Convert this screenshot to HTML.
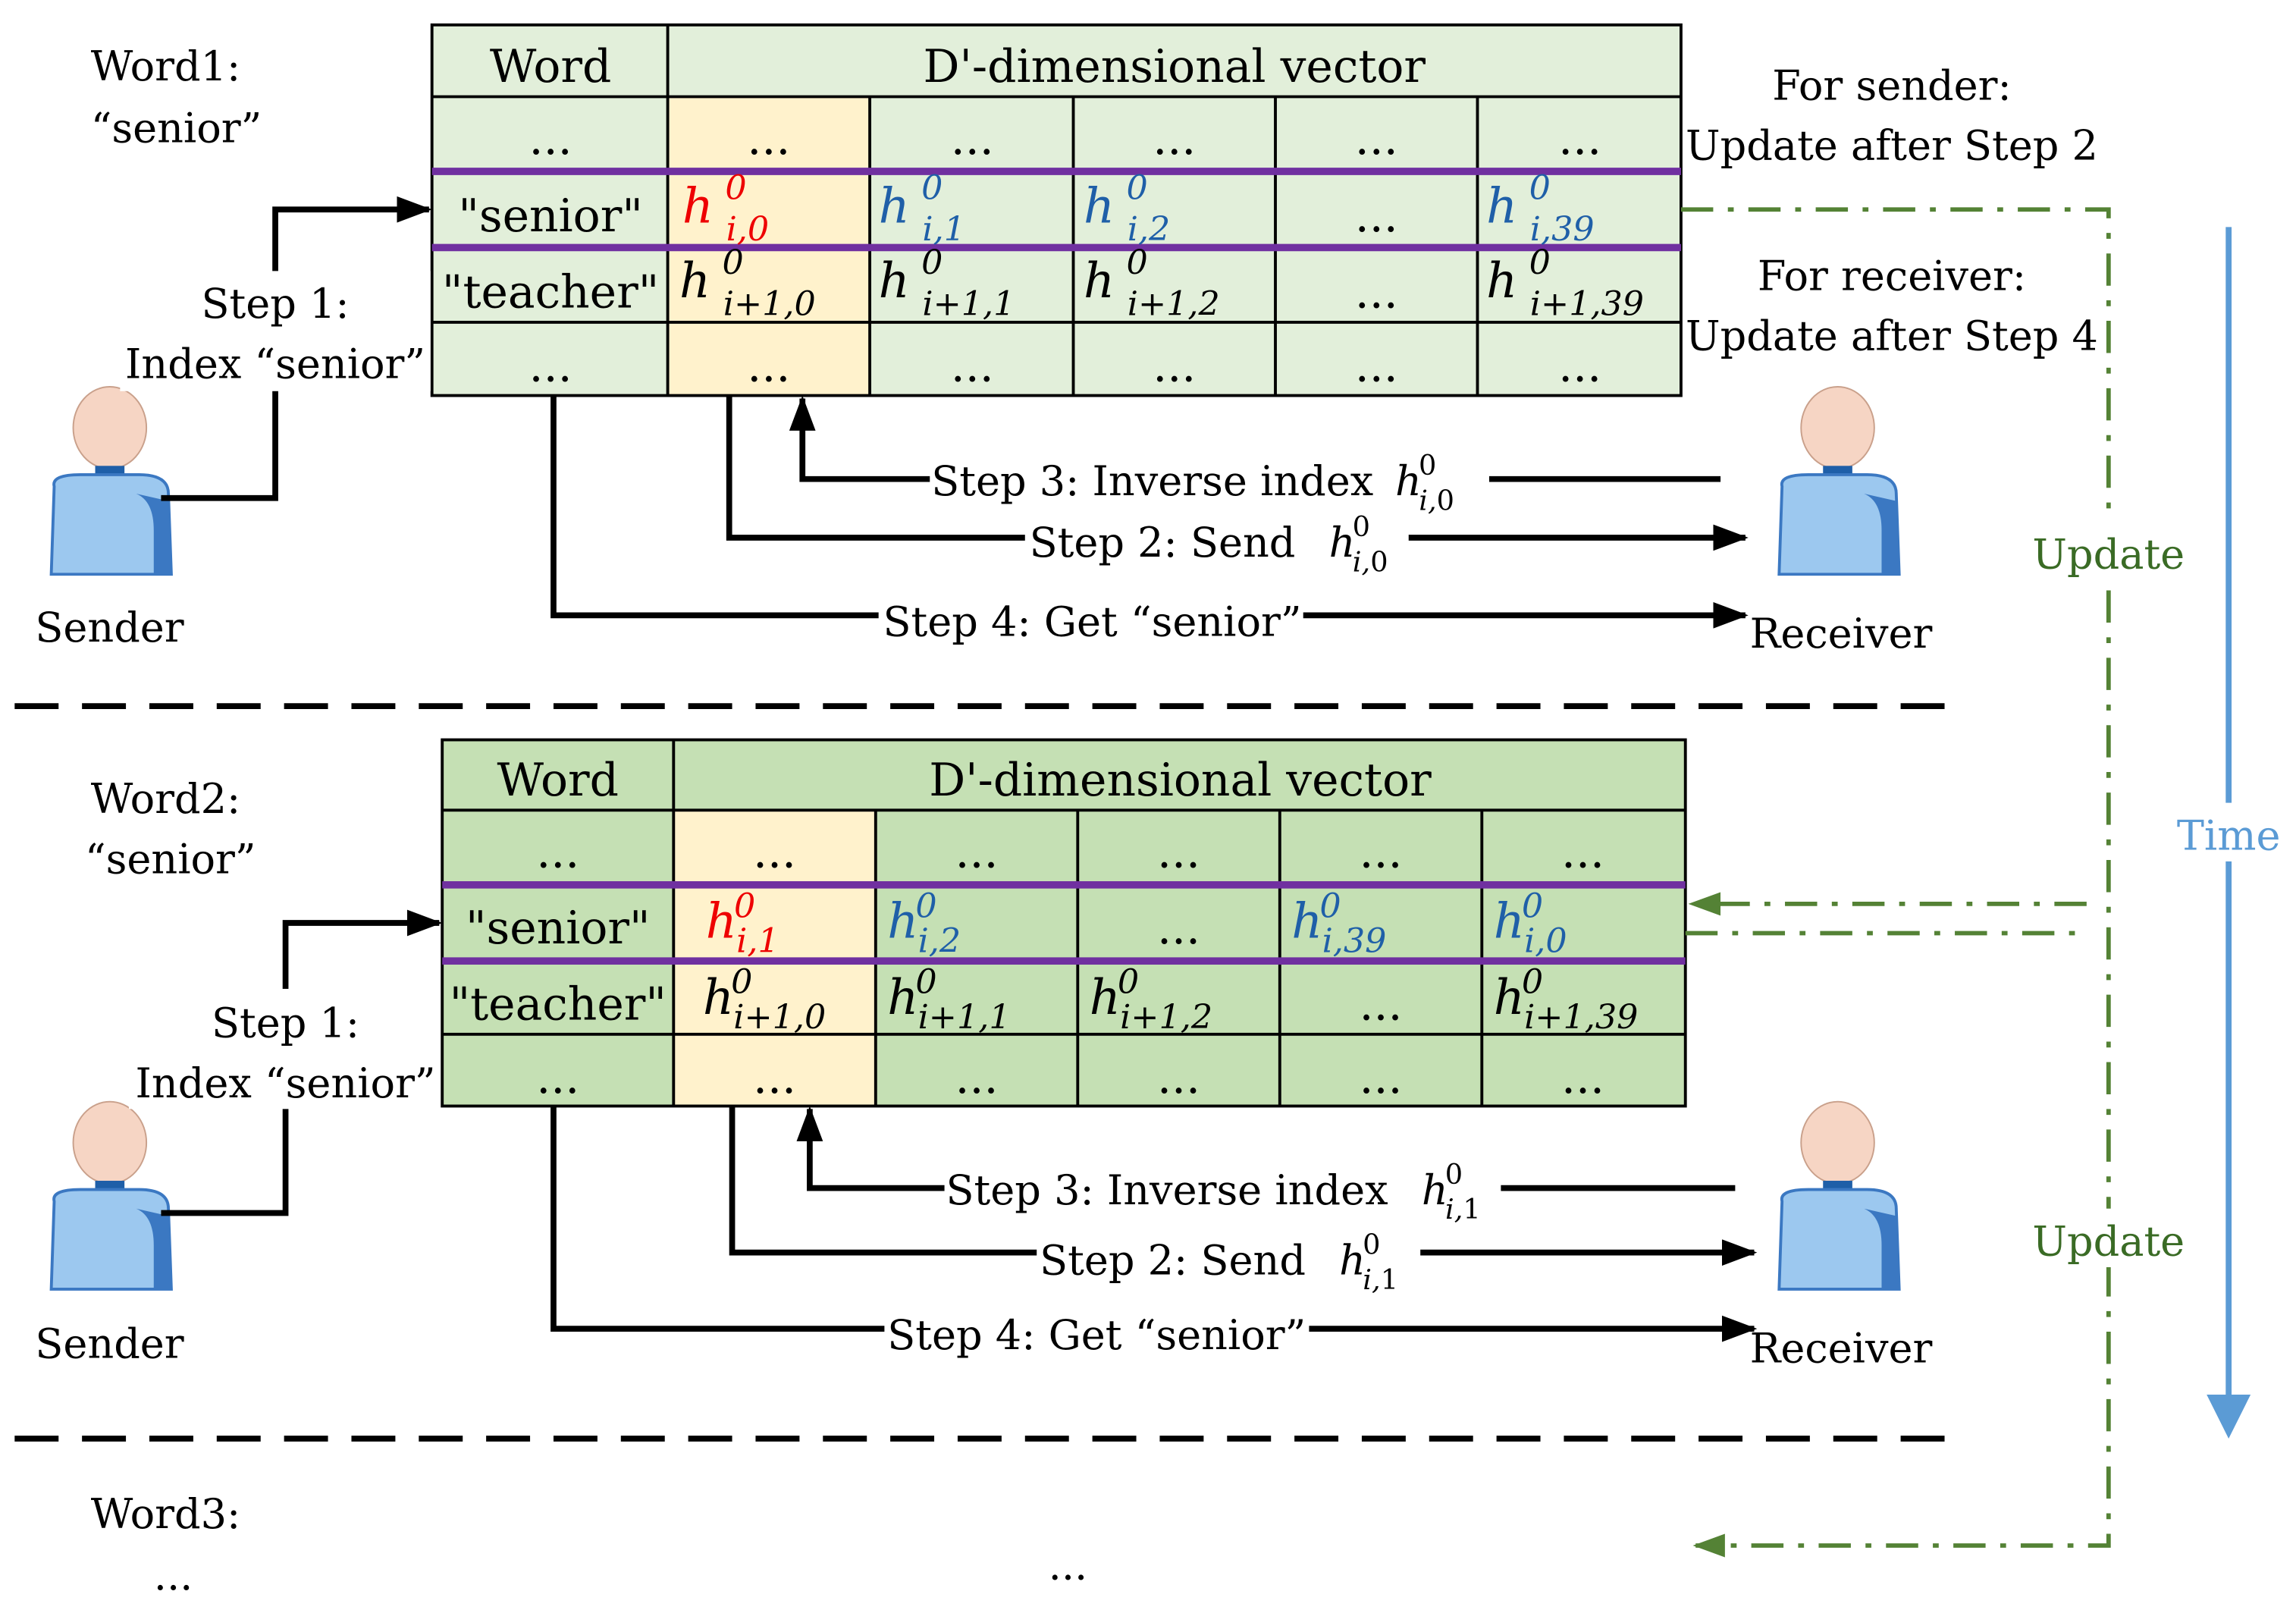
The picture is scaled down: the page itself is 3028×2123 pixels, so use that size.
<!DOCTYPE html>
<html><head><meta charset="utf-8"><style>
html,body{margin:0;padding:0;background:#fff;}
svg{display:block;}
text{font-family:"DejaVu Serif","Liberation Serif",serif;}
</style></head><body>
<svg width="3028" height="2123" viewBox="0 0 1568 1099" preserveAspectRatio="none" xmlns="http://www.w3.org/2000/svg">
<defs>
<marker id="ab2" markerWidth="24" markerHeight="18" refX="22" refY="9" orient="auto" markerUnits="userSpaceOnUse"><path d="M0,0 L24,9 L0,18 z" fill="#000"/></marker>
<marker id="ag" markerWidth="22" markerHeight="16" refX="20" refY="8" orient="auto" markerUnits="userSpaceOnUse"><path d="M0,0 L22,8 L0,16 z" fill="#548235"/></marker>
<g id="person">
<ellipse cx="0" cy="-100" rx="25" ry="28" fill="#f6d5c4" stroke="#c9a08b"/>
<rect x="-10" y="-74" width="20" height="8" fill="#1f5fa8"/>
<path d="M-38,-60 Q-40,-68 -20,-68 L20,-68 Q40,-68 40,-55 L42,0 L-40,0 Z" fill="#9cc8ef" stroke="#3b78c2" stroke-width="2"/>
<path d="M18,-55 Q30,-50 30,-30 L30,0 L42,0 L40,-50 Z" fill="#3b78c2"/>
</g>
</defs>

<!-- Table 1 -->
<rect x="295" y="17" width="853" height="253" fill="#e2efda"/>
<rect x="456" y="66" width="138" height="204" fill="#fff2cc"/>
<g stroke="#000" stroke-width="2" fill="none">
<rect x="295" y="17" width="853" height="253"/>
<line x1="295" y1="66" x2="1148" y2="66"/><line x1="295" y1="220" x2="1148" y2="220"/>
<line x1="456" y1="17" x2="456" y2="270"/>
<line x1="594" y1="66" x2="594" y2="270"/><line x1="733" y1="66" x2="733" y2="270"/>
<line x1="871" y1="66" x2="871" y2="270"/><line x1="1009" y1="66" x2="1009" y2="270"/>
</g>
<line x1="295" y1="117" x2="1148" y2="117" stroke="#7030a0" stroke-width="5"/>
<line x1="295" y1="169" x2="1148" y2="169" stroke="#7030a0" stroke-width="5"/>
<g font-size="31" text-anchor="middle" fill="#000">
<text x="376" y="56">Word</text><text x="802" y="56">D'-dimensional vector</text>
<text x="376" y="105">...</text><text x="525" y="105">...</text><text x="664" y="105">...</text><text x="802" y="105">...</text><text x="940" y="105">...</text><text x="1079" y="105">...</text>
<text x="376" y="158">"senior"</text><text x="940" y="158">...</text>
<text x="376" y="210">"teacher"</text><text x="940" y="210">...</text>
<text x="376" y="260">...</text><text x="525" y="260">...</text><text x="664" y="260">...</text><text x="802" y="260">...</text><text x="940" y="260">...</text><text x="1079" y="260">...</text>
</g>
<g font-size="33" font-style="italic">
<text x="466" y="152" fill="#e00">h<tspan font-size="23" dx="8" dy="-16">0</tspan><tspan font-size="23" dx="-14" dy="28">i,0</tspan></text>
<text x="600" y="152" fill="#1f5fa8">h<tspan font-size="23" dx="8" dy="-16">0</tspan><tspan font-size="23" dx="-14" dy="28">i,1</tspan></text>
<text x="740" y="152" fill="#1f5fa8">h<tspan font-size="23" dx="8" dy="-16">0</tspan><tspan font-size="23" dx="-14" dy="28">i,2</tspan></text>
<text x="1015" y="152" fill="#1f5fa8">h<tspan font-size="23" dx="8" dy="-16">0</tspan><tspan font-size="23" dx="-14" dy="28">i,39</tspan></text>
<text x="464" y="203" fill="#000">h<tspan font-size="23" dx="8" dy="-16">0</tspan><tspan font-size="23" dx="-14" dy="28">i+1,0</tspan></text>
<text x="600" y="203" fill="#000">h<tspan font-size="23" dx="8" dy="-16">0</tspan><tspan font-size="23" dx="-14" dy="28">i+1,1</tspan></text>
<text x="740" y="203" fill="#000">h<tspan font-size="23" dx="8" dy="-16">0</tspan><tspan font-size="23" dx="-14" dy="28">i+1,2</tspan></text>
<text x="1015" y="203" fill="#000">h<tspan font-size="23" dx="8" dy="-16">0</tspan><tspan font-size="23" dx="-14" dy="28">i+1,39</tspan></text>
</g>

<!-- Table 2 -->
<rect x="302" y="505" width="849" height="250" fill="#c5e0b4"/>
<rect x="460" y="553" width="138" height="202" fill="#fff2cc"/>
<g stroke="#000" stroke-width="2" fill="none">
<rect x="302" y="505" width="849" height="250"/>
<line x1="302" y1="553" x2="1151" y2="553"/><line x1="302" y1="706" x2="1151" y2="706"/>
<line x1="460" y1="505" x2="460" y2="755"/>
<line x1="598" y1="553" x2="598" y2="755"/><line x1="736" y1="553" x2="736" y2="755"/>
<line x1="874" y1="553" x2="874" y2="755"/><line x1="1012" y1="553" x2="1012" y2="755"/>
</g>
<line x1="302" y1="604" x2="1151" y2="604" stroke="#7030a0" stroke-width="5"/>
<line x1="302" y1="656" x2="1151" y2="656" stroke="#7030a0" stroke-width="5"/>
<g font-size="31" text-anchor="middle" fill="#000">
<text x="381" y="543">Word</text><text x="806" y="543">D'-dimensional vector</text>
<text x="381" y="592">...</text><text x="529" y="592">...</text><text x="667" y="592">...</text><text x="805" y="592">...</text><text x="943" y="592">...</text><text x="1081" y="592">...</text>
<text x="381" y="644">"senior"</text><text x="805" y="644">...</text>
<text x="381" y="696">"teacher"</text><text x="943" y="696">...</text>
<text x="381" y="746">...</text><text x="529" y="746">...</text><text x="667" y="746">...</text><text x="805" y="746">...</text><text x="943" y="746">...</text><text x="1081" y="746">...</text>
</g>
<g font-size="33" font-style="italic">
<text x="482" y="640" fill="#e00">h<tspan font-size="23" dx="-2" dy="-14">0</tspan><tspan font-size="23" dx="-13" dy="24">i,1</tspan></text>
<text x="606" y="640" fill="#1f5fa8">h<tspan font-size="23" dx="-2" dy="-14">0</tspan><tspan font-size="23" dx="-13" dy="24">i,2</tspan></text>
<text x="882" y="640" fill="#1f5fa8">h<tspan font-size="23" dx="-2" dy="-14">0</tspan><tspan font-size="23" dx="-13" dy="24">i,39</tspan></text>
<text x="1020" y="640" fill="#1f5fa8">h<tspan font-size="23" dx="-2" dy="-14">0</tspan><tspan font-size="23" dx="-13" dy="24">i,0</tspan></text>
<text x="480" y="692" fill="#000">h<tspan font-size="23" dx="-2" dy="-14">0</tspan><tspan font-size="23" dx="-13" dy="24">i+1,0</tspan></text>
<text x="606" y="692" fill="#000">h<tspan font-size="23" dx="-2" dy="-14">0</tspan><tspan font-size="23" dx="-13" dy="24">i+1,1</tspan></text>
<text x="744" y="692" fill="#000">h<tspan font-size="23" dx="-2" dy="-14">0</tspan><tspan font-size="23" dx="-13" dy="24">i+1,2</tspan></text>
<text x="1020" y="692" fill="#000">h<tspan font-size="23" dx="-2" dy="-14">0</tspan><tspan font-size="23" dx="-13" dy="24">i+1,39</tspan></text>
</g>

<!-- Left/right labels -->
<g font-size="28" fill="#000">
<text x="62" y="55">Word1:</text><text x="62" y="97">“senior”</text>
<text x="62" y="555">Word2:</text><text x="58" y="596">“senior”</text>
<text x="62" y="1043">Word3:</text><text x="105" y="1085">...</text>
<text x="716" y="1078">...</text>
<text x="24" y="438">Sender</text><text x="24" y="927">Sender</text>
<text x="1195" y="442">Receiver</text><text x="1195" y="930">Receiver</text>
<text x="1292" y="68" text-anchor="middle">For sender:</text>
<text x="1292" y="109" text-anchor="middle">Update after Step 2</text>
<text x="1292" y="198" text-anchor="middle">For receiver:</text>
<text x="1292" y="239" text-anchor="middle">Update after Step 4</text>
</g>

<use href="#person" x="75" y="392"/>
<use href="#person" x="75" y="880"/>
<use href="#person" x="1255" y="392"/>
<use href="#person" x="1255" y="880"/>

<g stroke="#000" stroke-width="4" fill="none">
<polyline points="110,340 188,340 188,143 293,143" marker-end="url(#ab2)"/>
<polyline points="1175,327 548,327 548,272" marker-end="url(#ab2)"/>
<polyline points="498,270 498,367 1192,367" marker-end="url(#ab2)"/>
<polyline points="378,270 378,420 1192,420" marker-end="url(#ab2)"/>
<polyline points="110,828 195,828 195,630 300,630" marker-end="url(#ab2)"/>
<polyline points="1185,811 553,811 553,757" marker-end="url(#ab2)"/>
<polyline points="500,755 500,855 1198,855" marker-end="url(#ab2)"/>
<polyline points="378,755 378,907 1198,907" marker-end="url(#ab2)"/>
</g>
<g font-size="28" fill="#000">
<rect x="82" y="185" width="212" height="82" fill="#fff"/>
<text x="188" y="217" text-anchor="middle">Step 1:</text><text x="188" y="258" text-anchor="middle">Index “senior”</text>
<rect x="88" y="675" width="212" height="82" fill="#fff"/>
<text x="195" y="708" text-anchor="middle">Step 1:</text><text x="195" y="749" text-anchor="middle">Index “senior”</text>
<rect x="635" y="300" width="382" height="60" fill="#fff"/>
<text x="636" y="338">Step 3: Inverse index <tspan font-style="italic" dx="6">h</tspan><tspan font-size="19" dx="-2" dy="-14">0</tspan><tspan font-size="19" font-style="italic" dx="-12" dy="24">i,</tspan><tspan font-size="19">0</tspan></text>
<rect x="700" y="345" width="262" height="52" fill="#fff"/>
<text x="703" y="380">Step 2: Send <tspan font-style="italic" dx="14">h</tspan><tspan font-size="19" dx="-2" dy="-14">0</tspan><tspan font-size="19" font-style="italic" dx="-12" dy="24">i,</tspan><tspan font-size="19">0</tspan></text>
<rect x="600" y="400" width="290" height="40" fill="#fff"/>
<text x="603" y="434">Step 4: Get “senior”</text>
<rect x="645" y="785" width="380" height="60" fill="#fff"/>
<text x="646" y="822">Step 3: Inverse index <tspan font-style="italic" dx="14">h</tspan><tspan font-size="19" dx="-2" dy="-14">0</tspan><tspan font-size="19" font-style="italic" dx="-12" dy="24">i,</tspan><tspan font-size="19">1</tspan></text>
<rect x="708" y="835" width="262" height="52" fill="#fff"/>
<text x="710" y="870">Step 2: Send <tspan font-style="italic" dx="14">h</tspan><tspan font-size="19" dx="-2" dy="-14">0</tspan><tspan font-size="19" font-style="italic" dx="-12" dy="24">i,</tspan><tspan font-size="19">1</tspan></text>
<rect x="604" y="888" width="290" height="40" fill="#fff"/>
<text x="606" y="921">Step 4: Get “senior”</text>
</g>

<line x1="10" y1="482" x2="1330" y2="482" stroke="#000" stroke-width="4" stroke-dasharray="30,16"/>
<line x1="10" y1="982" x2="1330" y2="982" stroke="#000" stroke-width="4" stroke-dasharray="30,16"/>

<g stroke="#548235" stroke-width="3" fill="none" stroke-dasharray="22,10,4,10">
<polyline points="1148,143 1440,143 1440,1055 1158,1055" marker-end="url(#ag)"/>
<polyline points="1425,617 1155,617" marker-end="url(#ag)"/>
<polyline points="1151,637 1425,637"/>
</g>
<rect x="1380" y="355" width="120" height="40" fill="#fff"/>
<rect x="1380" y="825" width="120" height="40" fill="#fff"/>
<g font-size="28" fill="#3a6b25" text-anchor="middle">
<text x="1440" y="388">Update</text><text x="1440" y="857">Update</text>
</g>

<line x1="1522" y1="155" x2="1522" y2="955" stroke="#5b9bd5" stroke-width="4"/>
<path d="M1507,952 L1537,952 L1522,982 Z" fill="#5b9bd5"/>
<rect x="1480" y="548" width="84" height="40" fill="#fff"/>
<text x="1522" y="580" font-size="28" fill="#5b9bd5" text-anchor="middle">Time</text>
</svg>
</body></html>
